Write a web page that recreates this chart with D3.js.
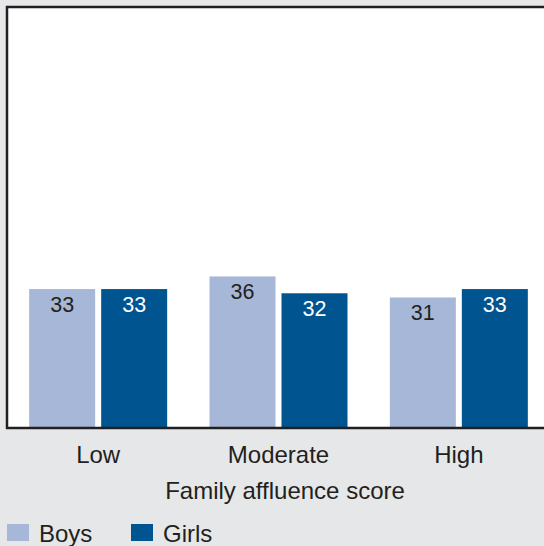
<!DOCTYPE html>
<html><head><meta charset="utf-8">
<script src="https://cdn.jsdelivr.net/npm/d3@7"></script>
<style>body{margin:0;background:#e6e7e8;}svg{display:block;font-family:"Liberation Sans",Arial,sans-serif;}</style>
</head><body>
<script>
const categories = ["Low", "Moderate", "High"];
const seriesNames = ["Boys", "Girls"];
const boys = [33, 36, 31];
const girls = [33, 32, 33];
const colors = ["#a6b7d7", "#00548f"];
const labelColors = ["#231f20", "#ffffff"];

const W = 544, H = 546;
const svg = d3.select("body").append("svg").attr("width", W).attr("height", H);
svg.append("rect").attr("width", W).attr("height", H).attr("fill", "#e6e7e8");

const pLeft = 7, pTop = 7, pBottom = 428, pRight = 544;
svg.append("rect").attr("x", pLeft).attr("y", pTop).attr("width", pRight - pLeft).attr("height", pBottom - pTop).attr("fill", "#fff");

const x = d3.scaleBand().domain(categories).range([8, 549]).paddingInner(0).paddingOuter(0);
const y = d3.scaleLinear().domain([0, 100]).range([pBottom, pTop]);
const barW = 66, gap = 6;

const data = categories.map((c, i) => ({c, vals: [boys[i], girls[i]]}));
const g = svg.append("g");
data.forEach(d => {
  const cx = x(d.c) + x.bandwidth() / 2;
  d.vals.forEach((v, j) => {
    const bx = j === 0 ? cx - gap / 2 - barW : cx + gap / 2;
    g.append("rect").attr("x", bx).attr("y", y(v)).attr("width", barW).attr("height", pBottom - y(v)).attr("fill", colors[j]);
    g.append("text").attr("x", bx + barW / 2).attr("y", y(v) + 23).attr("text-anchor", "middle")
      .attr("font-size", 21.5).attr("fill", labelColors[j]).text(v);
  });
});

svg.append("line").attr("x1", pLeft).attr("x2", pLeft).attr("y1", pTop - 1).attr("y2", pBottom + 1).attr("stroke", "#231f20").attr("stroke-width", 2.5);
svg.append("line").attr("x1", pLeft - 1).attr("x2", pRight).attr("y1", pTop).attr("y2", pTop).attr("stroke", "#231f20").attr("stroke-width", 2.5);
const xAxis = svg.append("g").attr("transform", `translate(0,${pBottom})`).call(d3.axisBottom(x).tickSize(0).tickPadding(18));
xAxis.select(".domain").remove();
svg.append("line").attr("x1", pLeft - 1).attr("x2", pRight).attr("y1", pBottom).attr("y2", pBottom).attr("stroke", "#231f20").attr("stroke-width", 2.5);
xAxis.selectAll("text").attr("font-size", 24).attr("fill", "#231f20").attr("font-family", "Liberation Sans, Arial, sans-serif");

svg.append("text").attr("x", 285).attr("y", 499).attr("text-anchor", "middle").attr("font-size", 24).attr("fill", "#231f20").text("Family affluence score");

const legX = [7, 131];
seriesNames.forEach((s, i) => {
  svg.append("rect").attr("x", legX[i]).attr("y", 524).attr("width", 22).attr("height", 17).attr("fill", colors[i]);
  svg.append("text").attr("x", legX[i] + 32).attr("y", 542).attr("font-size", 24).attr("fill", "#231f20").text(s);
});
</script>
</body></html>
